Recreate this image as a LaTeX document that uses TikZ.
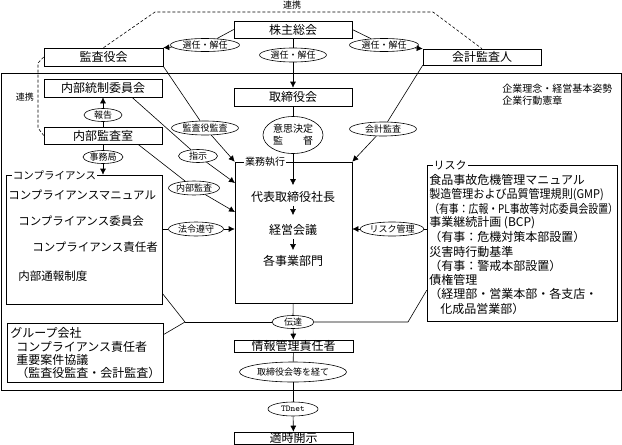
\documentclass[tikz,border=0pt]{standalone}
\usepackage{fontspec}
\setmainfont{Noto Sans CJK JP}
\usetikzlibrary{shapes.geometric,arrows.meta}

\begin{document}
\begin{tikzpicture}[x=1pt, y=-1pt, line width=0.6pt,
  >={Latex[length=6pt,width=6pt]},
  box/.style={draw, minimum width=118, minimum height=17, inner sep=0, font=\fontsize{12}{14}\selectfont},
  tag/.style={draw, ellipse, inner sep=0, minimum height=13, font=\fontsize{9}{10}\selectfont},
  legend/.style={fill=white, inner sep=1},
  body/.style={inner sep=0, anchor=west, font=\fontsize{12}{14}\selectfont}]
\useasboundingbox (0,0) rectangle (622,445);

% frame of the company
\draw (1,73) rectangle (621,390);

% top level
\node[box] (agm) at (293,29.5) {株主総会};
\node[box, minimum width=119, minimum height=18] (kansa) at (103.5,57) {監査役会};
\node[box, minimum height=16] (kaikei) at (482,57) {会計監査人};
\node[box, minimum height=18] (board) at (293,97) {取締役会};
\node[box, minimum height=18] (iinkai) at (103,88) {内部統制委員会};
\node[box] (naibu) at (103,135.5) {内部監査室};
\node[box, minimum width=119, minimum height=12] (info) at (293.5,346) {情報管理責任者};
\node[box, minimum width=119, minimum height=12] (kaiji) at (293.5,438) {適時開示};

\node[font=\fontsize{10}{12}\selectfont, anchor=west, inner sep=0] (rinen) at (502,89) {企業理念・経営基本姿勢};
\node[font=\fontsize{10}{12}\selectfont, anchor=west, inner sep=0] (kensho) at (502,101) {企業行動憲章};

% ellipses
\node[tag, minimum width=69] (sel1) at (205,45) {選任・解任};
\node[tag, minimum width=67, minimum height=14] (sel2) at (293,55) {選任・解任};
\node[tag, minimum width=69] (sel3) at (384,45) {選任・解任};
\node[tag, minimum width=67, minimum height=14] (kaudit) at (205,128) {監査役監査};
\node[tag, minimum width=67, minimum height=14] (caudit) at (383,129) {会計監査};
\node[tag, minimum width=60, minimum height=37, align=center, font=\fontsize{10}{12}\selectfont] (ishi) at (293,135) {意思決定\\監\hspace{2em}督};
\node[tag, minimum width=38] (houkoku) at (103,115) {報告};
\node[tag, minimum width=40] (jimu) at (103,157) {事務局};
\node[tag, minimum width=39] (shiji) at (198,156) {指示};
\node[tag, minimum width=45, minimum height=14] (naudit) at (194,188) {内部監査};
\node[tag, minimum width=55, minimum height=14] (law) at (196,229) {法令遵守};
\node[tag, minimum width=57, minimum height=14] (rmgmt) at (392,229) {リスク管理};
\node[tag, minimum width=42] (tell) at (293,322) {伝達};
\node[tag, minimum width=107, minimum height=20] (via) at (293,372) {取締役会等を経て};
\node[tag, minimum width=50, minimum height=14, font=\ttfamily\fontsize{9}{10}\selectfont] (tdnet) at (293,409) {TDnet};

% execution
\node[draw, minimum width=117, minimum height=141] (exec) at (293.5,232.5) {};
\node[legend, font=\fontsize{10}{12}\selectfont] (exec-lbl) at (265,162) {業務執行};
\node[inner sep=3, font=\fontsize{12}{14}\selectfont] (ceo) at (293,197) {代表取締役社長};
\node[inner sep=3, font=\fontsize{12}{14}\selectfont] (mgmt) at (293,230) {経営会議};
\node[inner sep=3, font=\fontsize{12}{14}\selectfont] (divs) at (293,261) {各事業部門};

% compliance
\node[draw, minimum width=156, minimum height=129] (comp) at (84,239.5) {};
\node[legend, font=\fontsize{10.5}{12}\selectfont] (comp-lbl) at (54.5,175) {コンプライアンス};
\foreach \x/\y/\t [count=\i] in {8/195/コンプライアンスマニュアル, 18/221/コンプライアンス委員会,
    32/247/コンプライアンス責任者, 18/276/内部通報制度}
  \node[body, font=\fontsize{11.5}{14}\selectfont] (comp\i) at (\x,\y) {\t};

% risk
\node[draw, minimum width=190, minimum height=156] (risk) at (522,243) {};
\node[legend, font=\fontsize{11}{12}\selectfont] (risk-lbl) at (450,165) {リスク};
\foreach \t [count=\i] in {食品事故危機管理マニュアル, \scalebox{0.92}[1]{製造管理および品質管理規則(GMP)},
    \scalebox{0.82}[1]{（有事：広報・PL事故等対応委員会設置）}, 事業継続計画 (BCP),
    （有事：危機対策本部設置）, 災害時行動基準, （有事：警戒本部設置）, 債権管理,
    （経理部・営業本部・各支店・, \hspace{11pt}化成品営業部）}
  \node[body] (risk\i) at (429,{180+14.3*(\i-1)}) {\t};

% group companies
\node[draw, minimum width=156, minimum height=59] (group) at (85,352.5) {};
\foreach \x/\y/\t [count=\i] in {10/333/グループ会社, 16/347/コンプライアンス責任者,
    16/360/重要案件協議, 16/373/（監査役監査・会計監査）}
  \node[body] (group\i) at (\x,\y) {\t};

% links
\coordinate (d1) at (155,12);
\coordinate (d2) at (433,12);
\coordinate (d3) at (38,63);
\coordinate (d4) at (38,128);
\draw[densely dashed] (kansa.north) -- (d1) -- (d2) -- (kaikei.north);
\draw[densely dashed] (kansa.west) -- (d3) -- (d4) -- (naibu.west);
\node[font=\fontsize{9}{10}\selectfont] (renkei1) at (292,5) {連携};
\node[font=\fontsize{9}{10}\selectfont] (renkei2) at (25,97) {連携};

\draw (agm.west) -- (sel1);
\draw[->] (sel1) -- (kansa.north east);
\draw (agm) -- (sel2);
\draw[->] (sel2) -- (board);
\draw (agm.east) -- (sel3);
\draw[->] (sel3) -- (kaikei.north west);

\draw (kansa.south east) -- (kaudit);
\draw[->] (kaudit) -- (exec.north west);
\draw (kaikei.south west) -- (caudit);
\draw[->] (caudit) -- (exec.north east);
\draw (board) -- (ishi);
\draw[->, shorten >=3] (ishi) -- (ceo);
\draw[->, shorten >=6] (ceo) -- (mgmt);
\draw[->, shorten >=2] (mgmt) -- (divs);

\coordinate (shiji-in) at (235,183);
\coordinate (naudit-in) at (235,212);
\draw ([xshift=29]iinkai.south) -- (shiji);
\draw[->] (shiji) -- (shiji-in);
\draw ([xshift=35]naibu.south) -- (naudit);
\draw[->] (naudit) -- (naudit-in);
\draw (naibu) -- (houkoku);
\draw[->] (houkoku) -- (iinkai);
\draw (naibu) -- (jimu);
\draw[->] (jimu) -- (comp.north -| jimu);
\draw (comp.east |- law) -- (law);
\draw[->] (law) -- (exec.west |- law);
\draw (risk.west |- rmgmt) -- (rmgmt);
\draw[->] (rmgmt) -- (exec.east |- rmgmt);

% reporting
\coordinate (jl) at (185,322);
\coordinate (jr) at (408,322);
\draw ([yshift=11]comp.south east) -- (jl) -- ([yshift=-12]group.north east);
\draw (jl) -- (tell);
\draw (tell) -- (jr) -- ([yshift=31]risk.south west);
\draw (exec) -- (tell);
\draw[->] (tell) -- (info);
\draw (info) -- (via);
\draw (via) -- (tdnet);
\draw[->] (tdnet) -- (kaiji);
\end{tikzpicture}
\end{document}
